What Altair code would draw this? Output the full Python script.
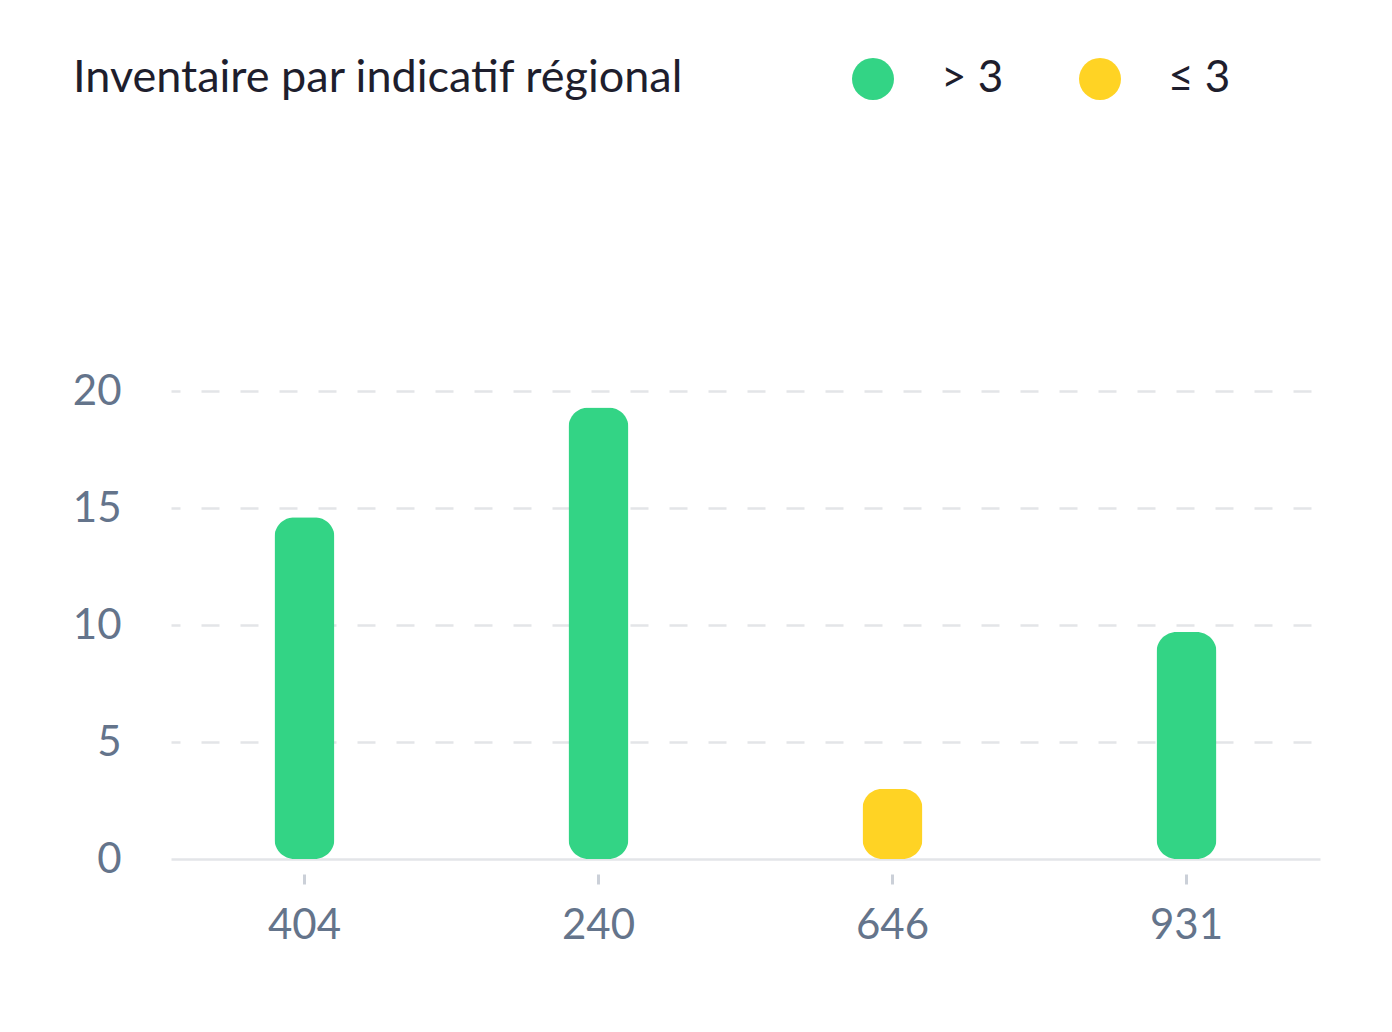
import altair as alt

import pandas as pd


# values
codes = ["404", "240", "646", "931"]
stock = [14.6, 19.3, 3.0, 9.7]
groups = ["> 3" if v > 3 else "≤ 3" for v in stock]

data = pd.DataFrame({"code": codes, "stock": stock, "group": groups})

FONT = "Lato"
GREEN = "#33d485"
YELLOW = "#ffd324"
GRID = "#e3e5e8"

bars = alt.Chart(data).mark_bar(size=60, cornerRadius=20).encode(
    alt.X("code:N",
          sort=codes,
          title=None,
          scale=alt.Scale(paddingInner=0.5, paddingOuter=0.204),
          axis=alt.Axis(labelAngle=0, domain=False, offset=15,
                        tickSize=10, tickWidth=3, tickColor="#cbd0d8",
                        labelPadding=21, labelFontSize=42,
                        labelColor="#64748b", labelFont=FONT)),
    alt.Y("stock:Q",
          title=None,
          scale=alt.Scale(domain=[0, 20]),
          axis=alt.Axis(values=[0, 5, 10, 15, 20], domain=False,
                        ticks=False, labelPadding=50, labelFontSize=42,
                        labelColor="#64748b", labelFont=FONT,
                        gridColor=GRID, gridWidth=2.5,
                        gridDash={"condition": {"test": "datum.value === 0",
                                                "value": []},
                                  "value": [18, 21]},
                        gridDashOffset=9)),
    alt.Color("group:N",
              scale=alt.Scale(domain=["> 3", "≤ 3"], range=[GREEN, YELLOW]),
              legend=alt.Legend(title=None, orient="none",
                                direction="horizontal",
                                legendX=680, legendY=-334,
                                symbolType="circle", symbolSize=1764,
                                symbolStrokeWidth=0, labelOffset=46,
                                columnPadding=74, labelFontSize=44,
                                labelColor="#1e1e2d", labelFont=FONT))
).properties(
    width=1149,
    height=468,
    padding={"left": 163, "top": 383, "right": 64, "bottom": 150},
    autosize=alt.AutoSizeParams(type="none"),
    background="white",
    title=alt.TitleParams("Inventaire par indicatif régional",
                          anchor="start", frame="group", dx=-98,
                          offset=-44, fontSize=45, font=FONT,
                          fontWeight="normal", color="#1e1e2d")
).configure_view(stroke=None)

bars.save("out.html", embed_options={"renderer": "svg", "actions": False})
